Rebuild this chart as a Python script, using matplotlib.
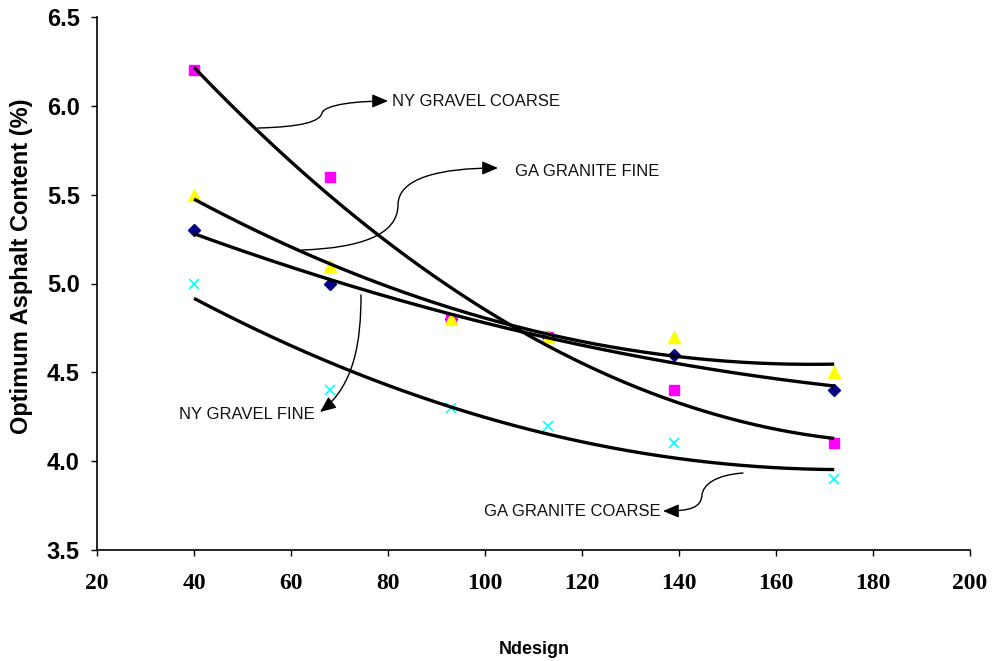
import numpy as np
import matplotlib
matplotlib.use("Agg")
import matplotlib.pyplot as plt
from matplotlib.path import Path
from matplotlib.patches import FancyArrowPatch

# ---- data ----
ndesign = [40, 68, 93, 113, 139, 172]
ny_gravel_fine = [5.3, 5.0, 4.8, 4.7, 4.6, 4.4]
ny_gravel_coarse = [6.2, 5.6, 4.8, 4.7, 4.4, 4.1]
ga_granite_fine = [5.5, 5.1, 4.8, 4.7, 4.7, 4.5]
ga_granite_coarse = [5.0, 4.4, 4.3, 4.2, 4.1, 3.9]
x_ticks = [20, 40, 60, 80, 100, 120, 140, 160, 180, 200]
y_ticks = [3.5, 4.0, 4.5, 5.0, 5.5, 6.0, 6.5]

W, H = 992, 661
fig = plt.figure(figsize=(W / 100, H / 100), dpi=100)
ax = fig.add_axes([97 / W, 1 - 550 / H, (970 - 97) / W, (550 - 17) / H])
ax.set_xlim(20, 200)
ax.set_ylim(3.5, 6.5)

series = [
    (ny_gravel_fine, dict(marker='D', color='#000080', ms=6)),
    (ny_gravel_coarse, dict(marker='s', color='#FF00FF', ms=7)),
    (ga_granite_fine, dict(marker='^', color='#FFFF00', ms=8)),
    (ga_granite_coarse, dict(marker='x', color='#00FFFF', ms=7, mew=1.2)),
]
x = np.array(ndesign, dtype=float)
for vals, st in series:
    ax.plot(x, vals, linestyle='none', zorder=2, **st)

xs = np.linspace(min(ndesign), max(ndesign), 200)
for vals, st in series:
    c = np.polyfit(x, vals, 2)
    ax.plot(xs, np.polyval(c, xs), color='black', lw=2.4, zorder=3,
            solid_capstyle='butt')

for s in ['top', 'right']:
    ax.spines[s].set_visible(False)
for s in ['left', 'bottom']:
    ax.spines[s].set_linewidth(1.2)
ax.set_xticks(x_ticks)
ax.set_yticks(y_ticks)
ax.set_yticklabels([f"{v:.1f}" for v in y_ticks],
                   fontfamily='Liberation Sans', fontweight='bold', fontsize=17)
ax.set_xticklabels([str(v) for v in x_ticks],
                   fontfamily='Liberation Serif', fontweight='bold', fontsize=17)
ax.tick_params(axis='both', direction='out', length=4.5, width=1)
ax.tick_params(axis='y', pad=8)
ax.tick_params(axis='x', pad=12)

fig.text(22 / W, 1 - 266 / H, 'Optimum Asphalt Content (%)', rotation=90,
         ha='center', va='center', fontfamily='Liberation Sans',
         fontweight='bold', fontsize=17)
fig.text(534 / W, 1 - 649 / H, 'Ndesign', ha='center', va='center',
         fontfamily='Liberation Sans', fontweight='bold', fontsize=13)


def p2d(px, py):
    return (20 + (px - 97) * 180 / (970 - 97), 3.5 + (550 - py) * 3.0 / (550 - 17))


def curved_arrow(pts):
    verts = [p2d(*p) for p in pts]
    codes = [Path.MOVETO] + [Path.CURVE4] * (len(verts) - 1)
    arr = FancyArrowPatch(path=Path(verts, codes),
                          arrowstyle='-|>,head_length=0.4,head_width=0.17',
                          mutation_scale=24, lw=1.0, color='black', zorder=4)
    ax.add_patch(arr)


curved_arrow([(258, 128), (300, 127), (320, 122), (322, 113),
              (325, 104), (360, 101), (388, 101)])
curved_arrow([(302, 250), (360, 248), (398, 235), (398, 205),
              (398, 178), (440, 168), (498, 168)])
curved_arrow([(361, 295), (361, 340), (355, 385), (320, 412)])
curved_arrow([(743, 473), (715, 475), (703, 485), (702, 495),
              (701, 508), (690, 511), (663, 511)])

tk = dict(fontfamily='Liberation Sans', fontsize=12, color='#111111', va='center')
ax.text(*p2d(392, 101), 'NY GRAVEL COARSE', ha='left', **tk)
ax.text(*p2d(515, 172), 'GA GRANITE FINE', ha='left', **tk)
ax.text(*p2d(315, 415), 'NY GRAVEL FINE', ha='right', **tk)
ax.text(*p2d(661, 512), 'GA GRANITE COARSE', ha='right', **tk)

fig.savefig('out.png', dpi=100)
